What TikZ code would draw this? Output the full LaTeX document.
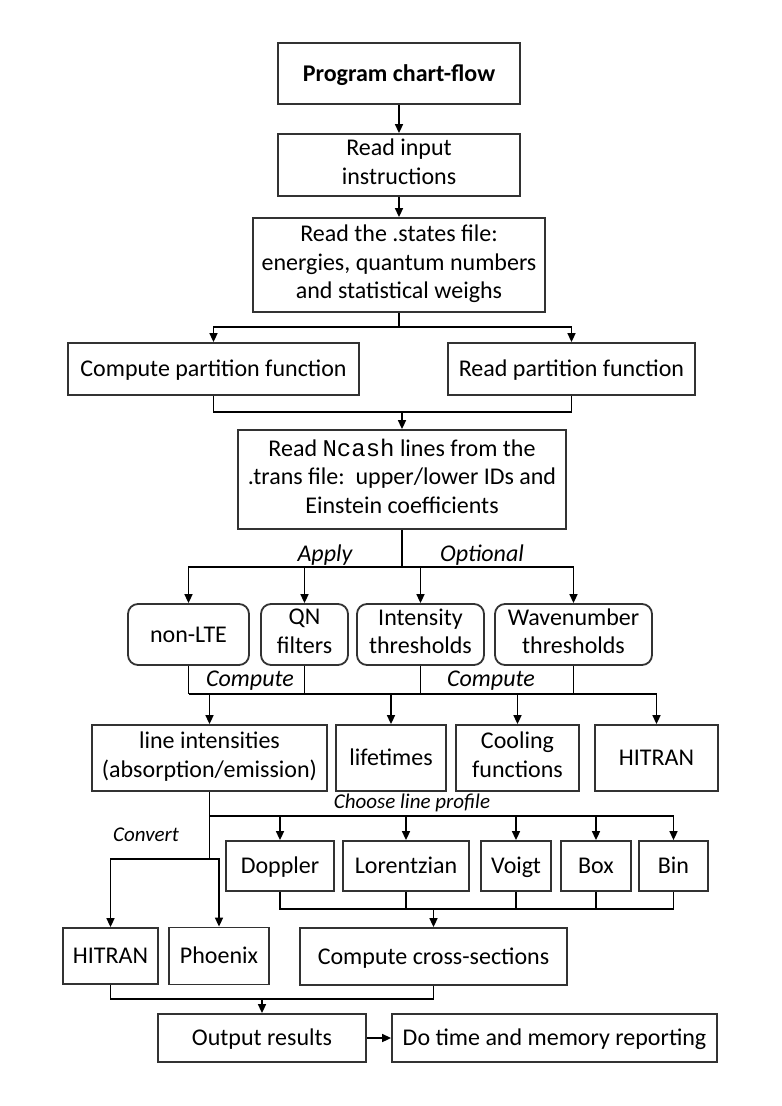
\documentclass[tikz,border=0pt]{standalone}
\usepackage{fontspec}
\setmainfont{Carlito}
\newfontfamily\codefont{Liberation Mono}
\usetikzlibrary{arrows.meta}
\definecolor{cBorder}{RGB}{50,50,50}
\newcommand\boxstrut{\rule[-3.3pt]{0pt}{14.4pt}}

\begin{document}
\begin{tikzpicture}[x=0.5pt, y=-0.5pt, line width=0.8pt,
  blk/.style={draw=cBorder, line width=0.9pt, inner sep=0pt, align=center, font=\fontsize{12}{14.4}\selectfont,
    execute at begin node=\boxstrut, execute at end node=\boxstrut},
  rblk/.style={blk, rounded corners=5pt},
  lbl/.style={font=\fontsize{12}{14.4}\selectfont\itshape, inner sep=0pt},
  slbl/.style={font=\fontsize{10.5}{12.6}\selectfont\itshape, inner sep=0pt},
  arr/.style={-{Triangle[length=4.5pt,width=4pt]}}]
  \useasboundingbox (0,0) rectangle (781,1106);

  % reading the input
  \node[blk, font=\fontsize{12}{14.4}\selectfont\bfseries, minimum width=121pt, minimum height=30.5pt] (title) at (399,73.5) {Program chart-flow};
  \node[blk, minimum width=121pt, minimum height=31pt] (input) at (399,165) {Read input\\instructions};
  \node[blk, minimum width=146pt, minimum height=47pt] (states) at (399,265) {Read the .states file:\\energies, quantum numbers\\and statistical weighs};
  \node[blk, minimum width=145.5pt, minimum height=26pt] (cpf) at (213.5,369) {Compute partition function};
  \node[blk, minimum width=123.5pt, minimum height=26pt] (rpf) at (571.5,369) {Read partition function};
  \node[blk, minimum width=164pt, minimum height=49.5pt] (trans) at (402,479.5) {Read {\codefont Ncash} lines from the\\.trans file:\ \ upper/lower IDs and\\Einstein coefficients};

  % optional filters
  \node[rblk, minimum width=60.5pt, minimum height=30.5pt] (nonlte) at (188.5,634.5) {non-LTE};
  \node[rblk, minimum width=43.5pt, minimum height=30.5pt] (qn) at (304.5,634.5) {QN\\filters};
  \node[rblk, minimum width=63.5pt, minimum height=30.5pt] (inten) at (420.5,634.5) {Intensity\\thresholds};
  \node[rblk, minimum width=78.5pt, minimum height=30.5pt] (wave) at (573.5,634.5) {Wavenumber\\thresholds};

  % computed quantities
  \node[blk, minimum width=117.5pt, minimum height=33pt] (lines) at (209.5,758) {line intensities\\(absorption/emission)};
  \node[blk, minimum width=55pt, minimum height=33pt] (life) at (391,758) {lifetimes};
  \node[blk, minimum width=61.5pt, minimum height=33pt] (cool) at (517.5,758) {Cooling\\functions};
  \node[blk, minimum width=61.5pt, minimum height=33pt] (hitranA) at (656.5,758) {HITRAN};

  % line profiles
  \node[blk, minimum width=54pt, minimum height=25pt] (dop) at (280,866) {Doppler};
  \node[blk, minimum width=63pt, minimum height=25pt] (lor) at (406,866) {Lorentzian};
  \node[blk, minimum width=35pt, minimum height=25pt] (voigt) at (516,866) {Voigt};
  \node[blk, minimum width=35pt, minimum height=25pt] (box) at (596,866) {Box};
  \node[blk, minimum width=34.5pt, minimum height=25pt] (bin) at (673.5,866) {Bin};

  % conversion and output
  \node[blk, minimum width=47.5pt, minimum height=28pt] (hitranB) at (110.5,956) {HITRAN};
  \node[blk, minimum width=50pt, minimum height=28.5pt] (phx) at (219,956) {Phoenix};
  \node[blk, minimum width=133.5pt, minimum height=28.5pt] (xsec) at (433.5,956.5) {Compute cross-sections};
  \node[blk, minimum width=104pt, minimum height=24pt] (out) at (262,1038) {Output results};
  \node[blk, minimum width=162.5pt, minimum height=24pt] (rep) at (554.5,1038) {Do time and memory reporting};

  % connectors
  \draw[arr] (title) -- (input);
  \draw[arr] (input) -- (states);
  \coordinate (split) at (399,327);
  \draw (states.south) -- (split);
  \draw[arr] (split) -| (cpf.north);
  \draw[arr] (split) -| (rpf.north);
  \coordinate (join) at (402,412);
  \draw (cpf.south) |- (join);
  \draw (rpf.south) |- (join);
  \draw[arr] (join) -- (trans.north);

  \coordinate (opt) at (402,567);
  \draw (trans.south) -- (opt);
  \foreach \n in {nonlte,qn,inten,wave} \draw[arr] (opt) -| (\n.north);
  \node[lbl] (apply) at (325,555) {Apply};
  \node[lbl] (optional) at (482,555) {Optional};

  \coordinate (cmp) at (188.5,694);
  \foreach \n in {nonlte,qn,inten,wave} \draw (\n.south) -- (\n.south |- cmp);
  \draw[arr] (cmp) -| (hitranA.north);
  \foreach \n in {lines,life,cool} \draw[arr] (\n.north |- cmp) -- (\n.north);
  \node[lbl] (compA) at (250,681) {Compute};
  \node[lbl] (compB) at (491,681) {Compute};

  \coordinate (prof) at (209.5,816);
  \coordinate (conv) at (209.5,859);
  \draw (lines.south) -- (conv);
  \draw[arr] (prof) -| (bin.north);
  \foreach \n in {dop,lor,voigt,box} \draw[arr] (\n.north |- prof) -- (\n.north);
  \node[slbl] (choose) at (412,803) {Choose line profile};
  \draw[arr] (conv) -| (hitranB.north);
  \draw[arr] (conv) -| (phx.north);
  \node[slbl] (convert) at (146,835) {Convert};

  \coordinate (xs) at (433.5,909);
  \draw (dop.south) |- (xs);
  \draw (bin.south) |- (xs);
  \foreach \n in {lor,voigt,box} \draw (\n.south) -- (\n.south |- xs);
  \draw[arr] (xs) -- (xsec.north);

  \coordinate (res) at (262,999);
  \draw (hitranB.south) |- (res);
  \draw (xsec.south) |- (res);
  \draw[arr] (res) -- (out.north);
  \draw[arr] (out) -- (rep);
\end{tikzpicture}
\end{document}
